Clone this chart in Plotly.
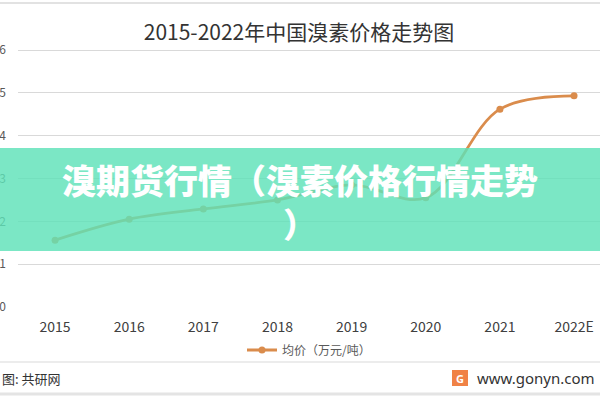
import plotly.graph_objects as go

years = ["2015", "2016", "2017", "2018", "2019", "2020", "2021", "2022E"]
price = [1.56, 2.05, 2.29, 2.50, 2.85, 2.55, 4.62, 4.93]
series_name = "均价（万元/吨）"
title_text = "2015-2022年中国溴素价格走势图"
banner_lines = ["溴期货行情（溴素价格行情走势", "）"]
source_text = "图: 共研网"
site_text = "www.gonyn.com"
y_ticks = [0, 1, 2, 3, 4, 5, 6]

W, H = 600, 400
L, R, T, B = 18, 0, 40, 93
plot_h = H - T - B


def py(p):
    """pixel row -> paper y"""
    return (H - B - p) / plot_h


def px(p):
    return (p - L) / (W - L - R)


FONT = "Noto Sans CJK SC"
ORANGE = "rgb(218,140,76)"

fig = go.Figure()
fig.add_trace(go.Scatter(
    x=list(range(len(years))), y=price, name=series_name,
    mode="lines+markers",
    line=dict(color=ORANGE, width=2.8, shape="spline", smoothing=1.0),
    marker=dict(color=ORANGE, size=7),
))

shapes = [
    # banner
    dict(type="rect", xref="paper", yref="paper", x0=px(-5), x1=px(605),
         y0=py(251), y1=py(148), fillcolor="rgba(94,226,184,0.82)",
         line=dict(width=0), layer="above"),
    # separators
    dict(type="line", xref="paper", yref="paper", x0=px(-5), x1=px(605),
         y0=py(3), y1=py(3), line=dict(color="#e2e2e2", width=2)),
    dict(type="line", xref="paper", yref="paper", x0=px(-5), x1=px(605),
         y0=py(362), y1=py(362), line=dict(color="#ececec", width=2)),
    dict(type="line", xref="paper", yref="paper", x0=px(-5), x1=px(605),
         y0=py(394), y1=py(394), line=dict(color="#e4e4e4", width=3)),
    # logo
    dict(type="rect", xref="paper", yref="paper", x0=px(452), x1=px(468),
         y0=py(386), y1=py(370), fillcolor="rgb(240,130,70)",
         line=dict(width=0)),
]

annotations = [
    dict(text="<br>".join(banner_lines), xref="paper", yref="paper",
         x=px(300), y=py(202), xanchor="center", yanchor="middle",
         align="center", showarrow=False,
         font=dict(family=FONT, size=34, color="white", weight=900)),
    dict(text=source_text, xref="paper", yref="paper", x=px(0), y=py(378),
         xanchor="left", yanchor="middle", showarrow=False,
         font=dict(family=FONT, size=13, color="#333333")),
    dict(text=site_text, xref="paper", yref="paper", x=px(475), y=py(378),
         xanchor="left", yanchor="middle", showarrow=False,
         font=dict(family="Noto Sans", size=15, color="#333333")),
    dict(text="G", xref="paper", yref="paper", x=px(460), y=py(378),
         xanchor="center", yanchor="middle", showarrow=False,
         font=dict(family="Noto Sans", size=11, color="white", weight=700)),
]

fig.update_layout(
    width=W, height=H,
    margin=dict(l=L, r=R, t=T, b=B, pad=0, autoexpand=False),
    paper_bgcolor="white", plot_bgcolor="white",
    title=dict(text=title_text, x=299 / W, xanchor="center", y=1 - 33 / H,
               yanchor="middle", yref="container",
               font=dict(family=FONT, size=21, color="#333333")),
    xaxis=dict(range=[-0.5, -0.5 + (W - L - R) / 74.14],
               tickvals=list(range(len(years))), ticktext=years,
               showgrid=False, zeroline=False, showline=False,
               ticks="", ticklabelstandoff=10, automargin=False,
               tickfont=dict(family=FONT, size=14, color="#404040")),
    yaxis=dict(range=[0, plot_h / 42.83], tickvals=y_ticks,
               showgrid=True, gridcolor="#d9d9d9", gridwidth=1,
               zeroline=False, showline=False, ticks="",
               ticklabelstandoff=11, automargin=False,
               tickfont=dict(family=FONT, size=12, color="#595959")),
    showlegend=True,
    legend=dict(orientation="h", x=0.5, xanchor="center", y=py(350),
                yanchor="middle", bgcolor="rgba(0,0,0,0)",
                font=dict(family=FONT, size=12, color="#595959"),
                itemwidth=30),
    shapes=shapes,
    annotations=annotations,
)

fig.write_html(
    "out.html",
    config={"displayModeBar": False},
    post_script="document.body.style.margin='0px';"
                "document.body.style.overflow='hidden';",
)
